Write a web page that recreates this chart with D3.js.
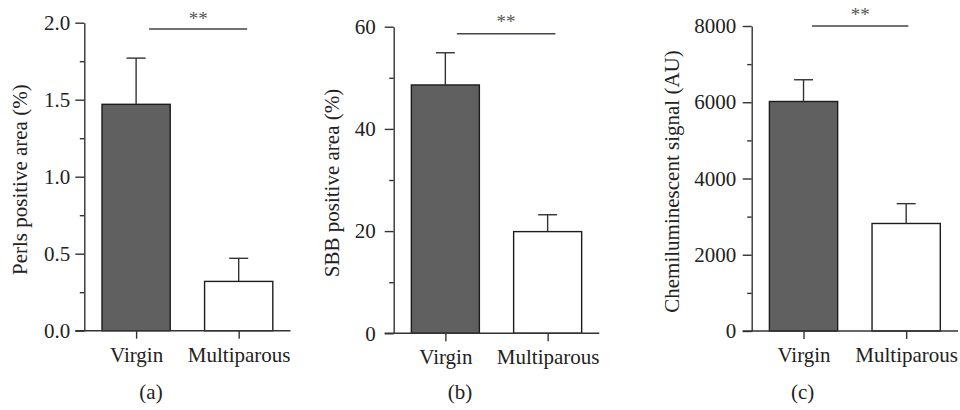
<!DOCTYPE html>
<html>
<head>
<meta charset="utf-8">
<script src="https://cdn.jsdelivr.net/npm/d3@7"></script>
<style>
  html, body { margin: 0; padding: 0; background: #fff; }
  svg { display: block; }
  svg text { font-family: "Liberation Serif", "Times New Roman", serif; }
</style>
</head>
<body>
<div id="chart"></div>
<script>
// data
const categories = ["Virgin", "Multiparous"];

const perlsMean = [1.47, 0.32];
const perlsErr = [0.30, 0.15];
const perlsTicks = [0, 0.5, 1.0, 1.5, 2.0];
const perlsMinor = [0.25, 0.75, 1.25, 1.75];

const sbbMean = [48.6, 19.9];
const sbbErr = [6.3, 3.3];
const sbbTicks = [0, 20, 40, 60];
const sbbMinor = [10, 30, 50];

const chemiMean = [6020, 2820];
const chemiErr = [570, 520];
const chemiTicks = [0, 2000, 4000, 6000, 8000];
const chemiMinor = [1000, 3000, 5000, 7000];

const barFills = ["#5f605f", "#ffffff"];

const width = 960, height = 410;
const fontFamily = "'Liberation Serif', 'Times New Roman', serif";
const fontSize = 21;

const svg = d3.select("#chart").append("svg")
  .attr("width", width)
  .attr("height", height);

// layout of each panel (pixels)
const panels = [
  { mean: perlsMean, err: perlsErr, ticks: perlsTicks, minor: perlsMinor, max: 2, fmt: d3.format(".1f"),
    axisX: 84.3, endX: 290.5, top: 22.7, bottom: 330.7, labelPad: 5,
    title: "Perls positive area (%)", titleX: 20, panel: "(a)", panelX: 151,
    sigY: 29, starY: 24.5, sigL: 13, sigR: 8.5 },
  { mean: sbbMean, err: sbbErr, ticks: sbbTicks, minor: sbbMinor, max: 60, fmt: d3.format("d"),
    axisX: 393.7, endX: 599.3, top: 26.7, bottom: 333.3, labelPad: 9,
    title: "SBB positive area (%)", titleX: 332, panel: "(b)", panelX: 460,
    sigY: 33.7, starY: 28, sigL: 11.5, sigR: 7.7 },
  { mean: chemiMean, err: chemiErr, ticks: chemiTicks, minor: chemiMinor, max: 8000, fmt: d3.format("d"),
    axisX: 751.7, endX: 958, top: 26, bottom: 331, labelPad: 6.5,
    title: "Chemiluminescent signal (AU)", titleX: 672, panel: "(c)", panelX: 802.7,
    sigY: 26, starY: 20.5, sigL: 8.5, sigR: 2.2 }
];

const axisColor = "#333";
const textColor = "#222";

function styleText(sel, size) {
  sel.attr("fill", textColor)
    .attr("font-family", fontFamily)
    .attr("font-size", size);
}

panels.forEach(p => {
  const g = svg.append("g");

  const y = d3.scaleLinear().domain([0, p.max]).range([p.bottom, p.top]);
  const x = d3.scalePoint().domain(categories).range([p.axisX, p.endX]).padding(0.505);
  const step = x.step();
  const barW = step * 0.665;

  // bars
  g.selectAll(".bar")
    .data(categories)
    .join("rect")
    .attr("class", "bar")
    .attr("x", d => x(d) - barW / 2)
    .attr("width", barW)
    .attr("y", (d, i) => y(p.mean[i]))
    .attr("height", (d, i) => y(0) - y(p.mean[i]))
    .attr("fill", (d, i) => barFills[i])
    .attr("stroke", "#1c1c1c")
    .attr("stroke-width", 1.4);

  // error bars (upper only)
  const capW = 19;
  const eb = g.selectAll(".err")
    .data(categories)
    .join("g")
    .attr("class", "err");
  eb.append("line")
    .attr("x1", d => x(d)).attr("x2", d => x(d))
    .attr("y1", (d, i) => y(p.mean[i]))
    .attr("y2", (d, i) => y(p.mean[i] + p.err[i]))
    .attr("stroke", axisColor).attr("stroke-width", 1.4);
  eb.append("line")
    .attr("x1", d => x(d) - capW / 2).attr("x2", d => x(d) + capW / 2)
    .attr("y1", (d, i) => y(p.mean[i] + p.err[i]))
    .attr("y2", (d, i) => y(p.mean[i] + p.err[i]))
    .attr("stroke", axisColor).attr("stroke-width", 1.4);

  // y axis, major ticks
  const yAxis = g.append("g")
    .attr("transform", `translate(${p.axisX},0)`)
    .call(d3.axisLeft(y).tickValues(p.ticks).tickFormat(p.fmt).tickSize(9).tickPadding(p.labelPad).tickSizeOuter(0));
  yAxis.attr("font-family", null).attr("font-size", null);
  yAxis.select(".domain").attr("stroke", axisColor).attr("stroke-width", 1.4);
  yAxis.selectAll(".tick line").attr("stroke", axisColor).attr("stroke-width", 1.4);
  yAxis.selectAll(".tick text").call(styleText, fontSize);

  // y axis, minor ticks
  const yMinor = g.append("g")
    .attr("transform", `translate(${p.axisX},0)`)
    .call(d3.axisLeft(y).tickValues(p.minor).tickFormat("").tickSize(4.5).tickSizeOuter(0));
  yMinor.select(".domain").remove();
  yMinor.selectAll(".tick line").attr("stroke", axisColor).attr("stroke-width", 1.4);

  // x axis
  const xAxis = g.append("g")
    .attr("transform", `translate(0,${p.bottom})`)
    .call(d3.axisBottom(x).tickSize(8).tickPadding(8).tickSizeOuter(0));
  xAxis.attr("font-family", null).attr("font-size", null);
  xAxis.select(".domain").remove();
  g.append("line")
    .attr("x1", p.axisX - 9).attr("x2", p.endX)
    .attr("y1", p.bottom).attr("y2", p.bottom)
    .attr("stroke", axisColor).attr("stroke-width", 1.4);
  xAxis.selectAll(".tick line").attr("stroke", axisColor).attr("stroke-width", 1.4);
  xAxis.selectAll(".tick text").call(styleText, fontSize);

  // y title
  g.append("text")
    .attr("transform", `translate(${p.titleX},${(p.top + p.bottom) / 2 + 3}) rotate(-90)`)
    .attr("text-anchor", "middle")
    .attr("dominant-baseline", "central")
    .call(styleText, fontSize)
    .text(p.title);

  // significance bar
  g.append("line")
    .attr("x1", x(categories[0]) + p.sigL)
    .attr("x2", x(categories[1]) + p.sigR)
    .attr("y1", p.sigY).attr("y2", p.sigY)
    .attr("stroke", "#444").attr("stroke-width", 1.4);
  g.append("text")
    .attr("x", (x(categories[0]) + p.sigL + x(categories[1]) + p.sigR) / 2)
    .attr("y", p.starY)
    .attr("text-anchor", "middle")
    .call(styleText, 19)
    .attr("fill", "#555")
    .text("**");

  // panel label
  g.append("text")
    .attr("x", p.panelX)
    .attr("y", 399)
    .attr("text-anchor", "middle")
    .call(styleText, fontSize)
    .text(p.panel);
});
</script>
</body>
</html>
